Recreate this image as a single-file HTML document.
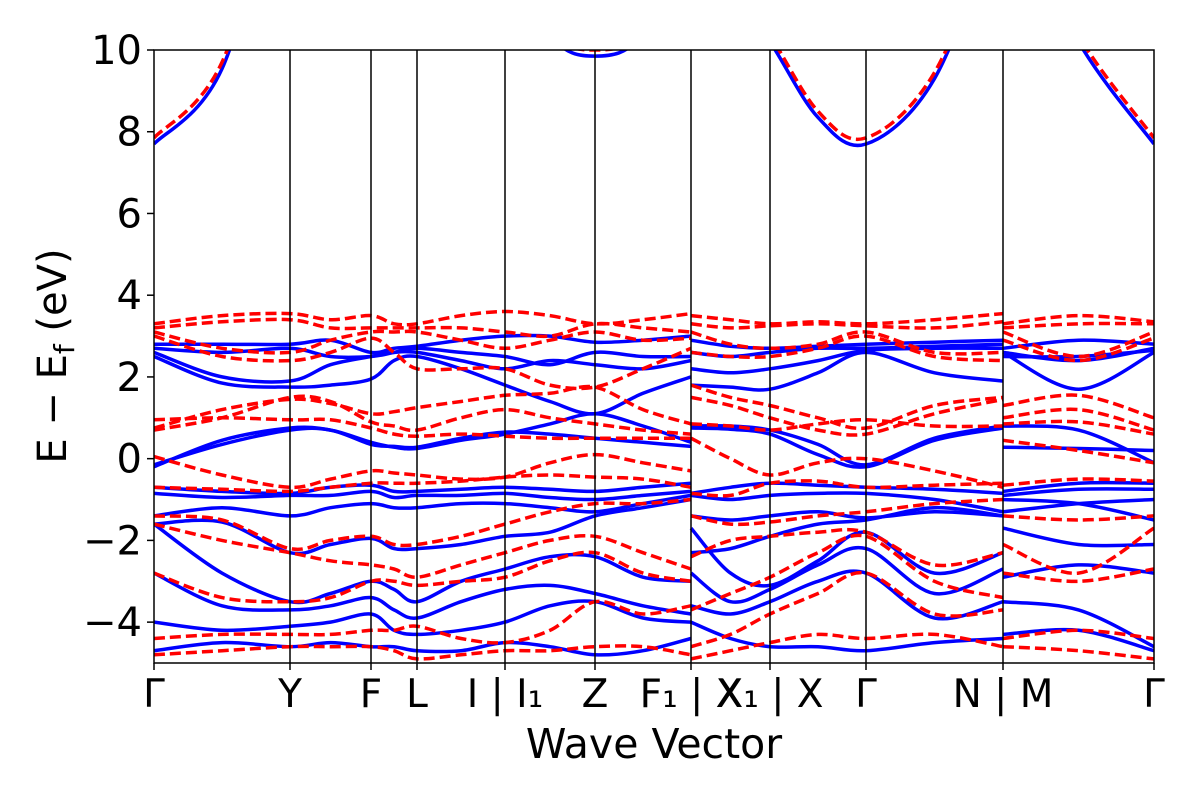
<!DOCTYPE html>
<html><head><meta charset="utf-8"><style>
body{margin:0;background:#fff}
svg text{font-family:"DejaVu Sans","Liberation Sans",sans-serif;fill:#000}
</style></head><body>
<svg id="chart" width="1200" height="800" xmlns="http://www.w3.org/2000/svg">
<defs><clipPath id="clip"><rect x="154" y="50" width="1000" height="613"/></clipPath></defs>
<g id="bands" clip-path="url(#clip)"></g>
<g id="axes"></g>
</svg>
<script>
// k-path node positions (cumulative k distance) and labels
const kNodes = [0, 1.36, 2.17, 2.63, 3.51, 4.41, 5.37, 6.16, 7.12, 8.49, 10.0];
const kLabels = ["Γ","Y","F","L","I | I₁","Z","F₁ | X","X₁ | X","Γ","N | M","Γ"];
const yTicks = [-4,-2,0,2,4,6,8,10];
// pieces of the path (node index ranges), sampled at nodes and midpoints
const pieces = [[0,6],[6,9],[9,10]];
// each band: piece A (13 values), piece B (7), piece C (3)
const blueBands = [
[7.7,9.54,15,15,15,15,15,15,13,10.4,9.85,10.4,13, 13,11.5,10.2,8.35,7.7,9.3,13.5, 14,10.2,7.7],
[2.8,2.8,2.8,2.9,2.6,2.7,2.75,2.9,3.0,3.0,2.85,2.9,3.0, 2.9,2.75,2.7,2.75,2.8,2.85,2.9, 2.7,2.9,2.8],
[2.7,2.6,2.7,2.5,2.5,2.6,2.7,2.6,2.5,2.3,2.6,2.5,2.5, 2.6,2.5,2.6,2.7,2.7,2.75,2.8, 2.6,2.4,2.7],
[2.6,2.0,1.9,2.3,2.5,2.6,2.6,2.4,2.2,2.4,2.3,2.2,2.4, 2.2,2.1,2.2,2.4,2.65,2.7,2.7, 2.5,2.5,2.65],
[2.5,1.85,1.75,1.8,1.95,2.4,2.5,2.2,1.8,1.4,1.1,1.6,2.0, 1.8,1.75,1.7,2.1,2.6,2.1,1.9, 2.6,1.7,2.6],
[-0.2,0.45,0.75,0.7,0.4,0.28,0.25,0.45,0.6,0.85,1.1,0.8,0.4, 0.8,0.8,0.7,0.35,-0.15,0.5,0.8, 0.8,0.7,-0.1],
[-0.15,0.35,0.7,0.7,0.35,0.3,0.28,0.5,0.65,0.6,0.5,0.4,0.3, 0.75,0.72,0.6,0.1,-0.2,0.45,0.75, 0.28,0.25,0.2],
[-0.7,-0.8,-0.85,-0.7,-0.65,-0.8,-0.8,-0.75,-0.7,-0.75,-0.8,-0.7,-0.6, -0.85,-0.7,-0.6,-0.65,-0.7,-0.75,-0.85, -0.8,-0.6,-0.6],
[-0.85,-0.95,-0.9,-0.9,-0.8,-0.95,-0.9,-0.9,-0.85,-0.95,-1.0,-0.9,-0.8, -0.9,-1.0,-0.9,-0.85,-0.85,-1.0,-1.3, -0.9,-0.75,-0.75],
[-1.4,-1.2,-1.4,-1.2,-1.1,-1.2,-1.2,-1.1,-1.1,-1.2,-1.3,-1.1,-0.9, -1.4,-1.5,-1.4,-1.3,-1.45,-1.3,-1.4, -1.3,-1.1,-1.0],
[-1.6,-1.55,-2.3,-2.1,-1.95,-2.2,-2.2,-2.1,-1.9,-1.8,-1.4,-1.2,-1.0, -2.3,-2.2,-1.9,-1.6,-1.5,-1.2,-1.4, -1.0,-1.1,-1.5],
[-1.6,-2.8,-3.5,-3.3,-3.0,-3.2,-3.5,-3.0,-2.7,-2.4,-2.4,-2.9,-3.0, -1.7,-2.8,-3.1,-2.5,-1.8,-2.8,-2.3, -1.7,-2.1,-2.1],
[-2.8,-3.6,-3.7,-3.6,-3.4,-3.7,-3.9,-3.5,-3.2,-3.1,-3.3,-3.6,-3.8, -2.8,-3.5,-3.2,-2.6,-2.2,-3.3,-2.7, -2.9,-2.6,-2.8],
[-4.0,-4.2,-4.1,-4.0,-3.8,-4.2,-4.3,-4.2,-4.0,-3.6,-3.5,-3.9,-4.0, -3.6,-3.8,-3.5,-3.0,-2.8,-3.9,-3.5, -3.5,-3.7,-4.6],
[-4.7,-4.5,-4.6,-4.5,-4.6,-4.6,-4.7,-4.7,-4.5,-4.6,-4.8,-4.7,-4.4, -4.0,-4.4,-4.6,-4.6,-4.7,-4.5,-4.4, -4.3,-4.2,-4.7]
];
const redBands = [
[7.85,9.7,15,15,15,15,15,15,13,10.5,10.0,10.5,13, 13,11.6,10.35,8.5,7.85,9.45,13.5, 14,10.35,7.85],
[3.3,3.5,3.55,3.4,3.5,3.3,3.3,3.5,3.6,3.5,3.3,3.4,3.55, 3.5,3.4,3.3,3.35,3.3,3.4,3.55, 3.3,3.5,3.35],
[3.2,3.35,3.4,3.2,3.2,3.2,3.2,3.2,3.1,3.0,3.3,3.2,3.1, 3.3,3.2,3.25,3.3,3.25,3.2,3.35, 3.2,3.3,3.3],
[3.1,2.7,2.6,2.9,3.1,3.1,3.1,2.9,2.7,2.9,3.1,2.9,2.95, 3.1,2.8,2.7,2.8,3.1,2.6,2.6, 3.1,2.5,3.1],
[3.0,2.5,2.4,2.6,2.95,2.6,2.2,2.2,2.2,1.8,1.75,2.2,2.7, 2.6,2.5,2.5,2.7,3.0,2.5,2.4, 2.9,2.4,2.95],
[0.75,1.2,1.45,1.35,1.1,1.15,1.25,1.4,1.55,1.6,1.75,1.2,0.85, 1.8,1.5,1.3,1.0,0.75,1.3,1.5, 1.3,1.55,1.0],
[0.7,1.0,1.5,1.4,0.9,0.8,0.7,1.0,1.2,1.0,0.85,0.7,0.6, 1.5,1.3,1.0,0.7,0.6,1.1,1.45, 1.0,1.2,0.7],
[0.95,1.0,0.95,0.95,0.75,0.6,0.55,0.6,0.55,0.5,0.5,0.5,0.5, 0.85,0.8,0.7,0.85,0.95,0.8,0.8, 0.85,0.9,0.6],
[0.05,-0.4,-0.7,-0.5,-0.3,-0.35,-0.4,-0.5,-0.45,-0.1,0.1,-0.1,-0.3, 0.5,0.0,-0.4,-0.1,0.0,-0.3,-0.7, 0.45,0.2,-0.1],
[-0.7,-0.75,-0.8,-0.7,-0.6,-0.6,-0.6,-0.55,-0.45,-0.4,-0.45,-0.5,-0.7, -0.85,-0.9,-0.6,-0.55,-0.7,-0.65,-0.6, -0.65,-0.5,-0.55],
[-1.4,-1.5,-2.2,-2.0,-1.9,-2.1,-2.1,-1.9,-1.6,-1.3,-1.1,-1.1,-1.0, -1.4,-1.6,-1.55,-1.4,-1.3,-1.1,-1.0, -1.4,-1.5,-1.4],
[-1.6,-2.0,-2.3,-2.5,-2.6,-2.7,-2.9,-2.6,-2.3,-2.0,-1.9,-2.3,-2.7, -2.4,-2.0,-1.9,-1.8,-1.8,-2.6,-2.3, -2.1,-2.8,-1.7],
[-2.8,-3.4,-3.5,-3.4,-3.0,-3.0,-3.1,-3.0,-2.9,-2.5,-2.3,-2.8,-3.0, -3.7,-3.3,-2.9,-2.3,-1.9,-3.0,-3.4, -2.8,-3.0,-2.7],
[-4.4,-4.3,-4.3,-4.3,-4.2,-4.2,-4.1,-4.4,-4.5,-4.2,-3.5,-3.8,-3.6, -4.6,-4.3,-3.8,-3.3,-2.8,-3.8,-3.7, -4.4,-4.2,-4.4],
[-4.8,-4.7,-4.6,-4.6,-4.6,-4.7,-4.9,-4.8,-4.7,-4.7,-4.6,-4.6,-4.8, -4.9,-4.7,-4.5,-4.3,-4.4,-4.3,-4.6, -4.6,-4.7,-4.9]
];
const X0=154,X1=1154,Y0=50,Y1=663,EMIN=-5,EMAX=10;
const xs=k=>X0+(k-kNodes[0])/(kNodes[kNodes.length-1]-kNodes[0])*(X1-X0);
const ys=e=>Y1-(e-EMIN)/(EMAX-EMIN)*(Y1-Y0);
const NS="http://www.w3.org/2000/svg";
function mk(tag,attrs,parent){const el=document.createElementNS(NS,tag);for(const a in attrs)el.setAttribute(a,attrs[a]);parent.appendChild(el);return el;}
function sampleK(){const out=[];for(const [a,b] of pieces){const ks=[];for(let i=a;i<b;i++){ks.push(kNodes[i]);ks.push((kNodes[i]+kNodes[i+1])/2);}ks.push(kNodes[b]);out.push(ks);}return out;}
function crPath(pts){let d=`M${pts[0][0].toFixed(1)},${pts[0][1].toFixed(1)}`;for(let i=0;i<pts.length-1;i++){const p0=pts[Math.max(i-1,0)],p1=pts[i],p2=pts[i+1],p3=pts[Math.min(i+2,pts.length-1)];const c1=[p1[0]+(p2[0]-p0[0])/6,p1[1]+(p2[1]-p0[1])/6],c2=[p2[0]-(p3[0]-p1[0])/6,p2[1]-(p3[1]-p1[1])/6];d+=`C${c1[0].toFixed(1)},${c1[1].toFixed(1)} ${c2[0].toFixed(1)},${c2[1].toFixed(1)} ${p2[0].toFixed(1)},${p2[1].toFixed(1)}`;}return d;}
const bandsG=document.getElementById('bands');
const kSets=sampleK();
function drawBands(list,color,dash,name){list.forEach((vals,bi)=>{let off=0;kSets.forEach((ks,pi)=>{const pts=ks.map((k,j)=>[xs(k),ys(vals[off+j])]);off+=ks.length;const p=mk('path',{d:crPath(pts),fill:'none',stroke:color,'stroke-width':3.5},bandsG);if(dash)p.setAttribute('stroke-dasharray',dash);


});});}
drawBands(blueBands,'#0000ff',null,'blue-band');
drawBands(redBands,'#ff0000','11,5','red-band');
const ax=document.getElementById('axes');
kNodes.forEach((k,i)=>{if(i>0&&i<kNodes.length-1){const l=mk('line',{x1:xs(k),x2:xs(k),y1:Y0,y2:Y1,stroke:'#000','stroke-width':1.5},ax);

}
mk('line',{x1:xs(k),x2:xs(k),y1:Y1,y2:Y1+7,stroke:'#000','stroke-width':1.5},ax);
const t=mk('text',{x:xs(k),y:707,'font-size':39,'text-anchor':'middle'},ax);t.textContent=kLabels[i];

});
yTicks.forEach(v=>{mk('line',{x1:X0-7,x2:X0,y1:ys(v),y2:ys(v),stroke:'#000','stroke-width':1.5},ax);
const t=mk('text',{x:X0-12,y:ys(v)+14,'font-size':40,'text-anchor':'end'},ax);t.textContent=(v<0?'−':'')+Math.abs(v);

});
const fr=mk('rect',{x:X0,y:Y0,width:X1-X0,height:Y1-Y0,fill:'none',stroke:'#000','stroke-width':1.5},ax);


</script>
<svg style="position:absolute;left:0;top:0" width="1200" height="800">
<text x="654" y="758" font-size="41" text-anchor="middle" font-family="DejaVu Sans,sans-serif">Wave Vector</text>
<text transform="translate(66,356) rotate(-90)" font-size="40" text-anchor="middle" font-family="DejaVu Sans,sans-serif">E − E<tspan font-size="28" dy="8">f</tspan><tspan dy="-8"> (eV)</tspan></text>
</svg>
</body></html>
